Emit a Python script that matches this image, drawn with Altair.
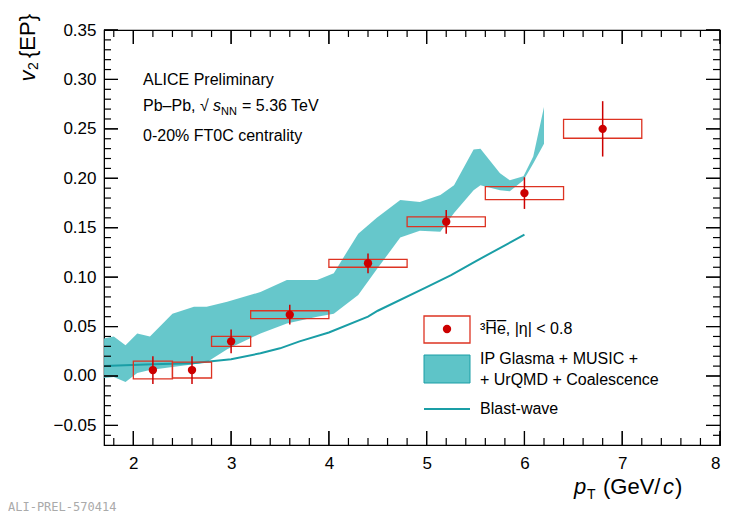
import altair as alt
import pandas as pd

# measured 3He-bar v2 points
pt = [2.2, 2.6, 3.0, 3.6, 4.4, 5.2, 6.0, 6.8]
pt_lo = [2.0, 2.4, 2.8, 3.2, 4.0, 4.8, 5.6, 6.4]
pt_hi = [2.4, 2.8, 3.2, 4.0, 4.8, 5.6, 6.4, 7.2]
v2 = [0.006, 0.006, 0.035, 0.062, 0.114, 0.156, 0.185, 0.250]
stat = [0.014, 0.014, 0.012, 0.010, 0.010, 0.012, 0.016, 0.028]
syst = [0.009, 0.008, 0.005, 0.004, 0.004, 0.005, 0.0065, 0.0095]

# IP Glasma + MUSIC + UrQMD + Coalescence band
band_x = [1.7, 1.8, 1.92, 2.04, 2.17, 2.4, 2.62, 2.75, 2.96, 3.3, 3.57, 3.88, 4.05,
          4.3, 4.49, 4.73, 4.93, 5.14, 5.28, 5.48, 5.55, 5.75, 5.85, 5.99, 6.09, 6.2]
band_hi = [0.038, 0.040, 0.031, 0.043, 0.040, 0.063, 0.070, 0.070, 0.075, 0.085, 0.097,
           0.097, 0.104, 0.144, 0.160, 0.178, 0.176, 0.183, 0.193, 0.229, 0.230, 0.205,
           0.198, 0.202, 0.222, 0.272]
band_lo = [-0.002, -0.001, -0.006, 0.003, 0.006, 0.009, 0.012, 0.014, 0.027, 0.043, 0.053,
           0.060, 0.063, 0.082, 0.108, 0.140, 0.147, 0.146, 0.165, 0.188, 0.193, 0.188,
           0.187, 0.198, 0.215, 0.235]

# Blast-wave curve
bw_x = [1.7, 2.2, 2.6, 3.0, 3.3, 3.5, 3.7, 4.0, 4.4, 4.5, 5.0, 5.25, 5.5, 6.0]
bw_y = [0.010, 0.012, 0.013, 0.017, 0.023, 0.028, 0.035, 0.044, 0.060, 0.066, 0.090,
        0.102, 0.116, 0.143]

x_major = [2, 3, 4, 5, 6, 7, 8]
x_minor = [round(1.8 + 0.2 * i, 1) for i in range(32)]
y_major = [-0.05, 0.0, 0.05, 0.10, 0.15, 0.20, 0.25, 0.30, 0.35]
y_minor = [round(-0.06 + 0.01 * i, 2) for i in range(42)]

W, H = 616, 415
FONT = "Liberation Sans"
RED = "#cc0000"
BOX = "#dd3322"
TEAL = "#5ec4c8"
LINE = "#1a9ea6"
X0, X1 = 1.7, 8.0
Y0, Y1 = -0.0698, 0.35

xs = alt.Scale(domain=[X0, X1], nice=False, zero=False)
ys = alt.Scale(domain=[Y0, Y1], nice=False, zero=False)

pts = pd.DataFrame({"pt": pt, "lo": pt_lo, "hi": pt_hi, "v2": v2,
                    "s_lo": [a - b for a, b in zip(v2, stat)], "s_hi": [a + b for a, b in zip(v2, stat)],
                    "y_lo": [a - b for a, b in zip(v2, syst)], "y_hi": [a + b for a, b in zip(v2, syst)]})
band = pd.DataFrame({"x": band_x, "lo": band_lo, "hi": band_hi})
bw = pd.DataFrame({"x": bw_x, "y": bw_y})

area = alt.Chart(band).mark_area(color=TEAL, opacity=0.95).encode(
    x=alt.X("x:Q", scale=xs, axis=alt.Axis(values=x_major, format="d", title=None, tickSize=0,
                                          labelFont=FONT, labelFontSize=17, labelColor="black",
                                          labelPadding=10, domainColor="black", grid=False)),
    y=alt.Y("lo:Q", scale=ys, axis=alt.Axis(values=y_major, format=".2f", title=None, tickSize=0,
                                           labelFont=FONT, labelFontSize=17, labelColor="black",
                                           labelPadding=8, domainColor="black", grid=False)),
    y2="hi:Q")
line = alt.Chart(bw).mark_line(color=LINE, strokeWidth=2).encode(x="x:Q", y="y:Q")
boxes = alt.Chart(pts).mark_rect(fillOpacity=0, stroke=BOX, strokeWidth=1.3).encode(
    x="lo:Q", x2="hi:Q", y="y_lo:Q", y2="y_hi:Q")
errs = alt.Chart(pts).mark_rule(color=RED, strokeWidth=1.5).encode(
    x="pt:Q", y="s_lo:Q", y2="s_hi:Q")
dots = alt.Chart(pts).mark_circle(color=RED, size=70, opacity=1).encode(x="pt:Q", y="v2:Q")

# inward ticks on all four sides, lengths in pixels converted to data units
xpx = (X1 - X0) / W
ypx = (Y1 - Y0) / H
tick_rows = []
for v in x_major + x_minor:
    n = 14 if v in x_major else 7
    tick_rows.append({"a": v, "b": v, "c": Y0, "d": Y0 + n * ypx})
    tick_rows.append({"a": v, "b": v, "c": Y1, "d": Y1 - n * ypx})
for v in y_major + y_minor:
    n = 14 if v in y_major else 7
    tick_rows.append({"a": X0, "b": X0 + n * xpx, "c": v, "d": v})
    tick_rows.append({"a": X1, "b": X1 - n * xpx, "c": v, "d": v})
ticks = alt.Chart(pd.DataFrame(tick_rows)).mark_rule(color="black", strokeWidth=1.2).encode(
    x="a:Q", x2="b:Q", y="c:Q", y2="d:Q")


def txt(s, x, y, size=16, **kw):
    kw.setdefault("font", FONT)
    kw.setdefault("align", "left")
    kw.setdefault("color", "black")
    kw.setdefault("baseline", "middle")
    return alt.Chart(pd.DataFrame({"a": [0]})).mark_text(text=s, fontSize=size, **kw).encode(
        x=alt.value(x), y=alt.value(y))


labels = [
    txt("ALICE Preliminary", 39, 50),
    txt("Pb–Pb, √", 39, 76),
    txt("s", 109, 76, fontStyle="italic"),
    txt("NN", 117, 82, size=11),
    txt("= 5.36 TeV", 138, 76),
    txt("0-20% FT0C centrality", 39, 106),
    # y title
    txt("v", -76, 46, size=22, angle=270, align="center", fontStyle="italic"),
    txt("2", -70, 36, size=14, angle=270, align="center"),
    txt("{EP}", -76, 6, size=22, angle=270, align="center"),
    # x title
    txt("p", 470, 457, size=22, fontStyle="italic"),
    txt("T", 483, 465, size=14),
    txt("(GeV/", 499, 457, size=22),
    txt("c", 559, 457, size=22, fontStyle="italic"),
    txt(")", 571, 457, size=22),
    # legend
    txt("³H̅e̅, |η| < 0.8", 376, 299),
    txt("IP Glasma + MUSIC +", 376, 329),
    txt("+ UrQMD + Coalescence", 376, 350),
    txt("Blast-wave", 376, 379),
    txt("ALI-PREL-570414", -96, 477, size=12, font="DejaVu Sans Mono", color="#aaaaaa"),
]
one = pd.DataFrame({"a": [0]})
legend_box = alt.Chart(one).mark_rect(fillOpacity=0, stroke=BOX, strokeWidth=1.3).encode(
    x=alt.value(320), x2=alt.value(366), y=alt.value(286), y2=alt.value(313))
legend_dot = alt.Chart(one).mark_circle(color=RED, size=70, opacity=1).encode(
    x=alt.value(343), y=alt.value(299))
legend_band = alt.Chart(one).mark_rect(color=TEAL, stroke=LINE, strokeWidth=1).encode(
    x=alt.value(320), x2=alt.value(366), y=alt.value(325), y2=alt.value(353))
legend_line = alt.Chart(one).mark_rule(color=LINE, strokeWidth=2).encode(
    x=alt.value(320), x2=alt.value(366), y=alt.value(379))

chart = alt.layer(area, line, boxes, errs, dots, ticks, legend_box, legend_dot, legend_band,
                  legend_line, *labels).properties(
    width=W, height=H, autosize=alt.AutoSizeParams(type="none"),
    padding={"left": 96, "top": 22, "right": 12, "bottom": 72},
    background="white",
).configure_view(stroke="black", strokeWidth=1.2)

chart.save("out.html", embed_options={"renderer": "svg", "actions": False})
